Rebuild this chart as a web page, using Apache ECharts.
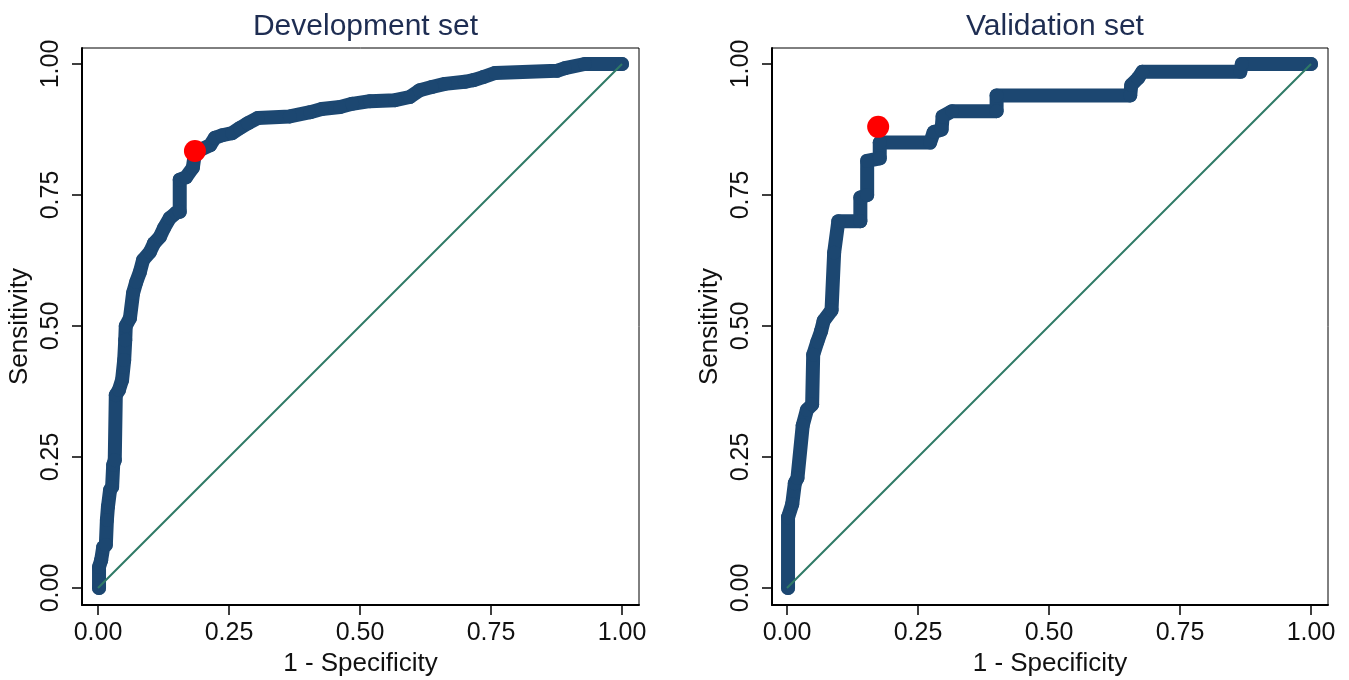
<!DOCTYPE html>
<html>
<head>
<meta charset="utf-8">
<script src="https://cdn.jsdelivr.net/npm/echarts@6/dist/echarts.min.js"></script>
<style>
html,body{margin:0;padding:0;background:#fff;}
#chart{width:1349px;height:680px;}
</style>
</head>
<body>
<div id="chart"></div>
<script>
// ---- data ----
var panelTitles = ['Development set', 'Validation set'];
var xAxisName = '1 - Specificity';
var yAxisName = 'Sensitivity';
var tickValues = [0, 0.25, 0.5, 0.75, 1];
var tickLabels = ['0.00', '0.25', '0.50', '0.75', '1.00'];

var devFpr = [0.002,0.002,0.006,0.010,0.015,0.017,0.019,0.023,0.027,0.029,0.032,0.034,0.040,0.046,0.050,0.052,0.053,0.061,0.067,0.073,0.080,0.086,0.099,0.107,0.118,0.126,0.137,0.149,0.156,0.156,0.168,0.181,0.185,0.195,0.214,0.223,0.237,0.256,0.271,0.286,0.305,0.366,0.405,0.427,0.462,0.485,0.519,0.567,0.595,0.614,0.637,0.662,0.700,0.716,0.735,0.758,0.876,0.891,0.929,1.000];
var devTpr = [0.000,0.040,0.053,0.078,0.082,0.130,0.155,0.187,0.193,0.235,0.244,0.368,0.378,0.397,0.435,0.473,0.500,0.515,0.563,0.584,0.603,0.626,0.641,0.658,0.670,0.687,0.706,0.716,0.718,0.779,0.784,0.802,0.830,0.836,0.845,0.859,0.864,0.868,0.878,0.887,0.897,0.900,0.908,0.914,0.918,0.924,0.929,0.931,0.937,0.950,0.956,0.962,0.966,0.969,0.975,0.983,0.987,0.992,1.000,1.000];
var devCut = [0.185, 0.834];

var valFpr = [0.002,0.002,0.010,0.015,0.020,0.030,0.038,0.048,0.050,0.058,0.065,0.070,0.085,0.090,0.098,0.140,0.140,0.153,0.153,0.177,0.177,0.273,0.280,0.295,0.297,0.315,0.400,0.400,0.655,0.657,0.670,0.678,0.865,0.868,1.000];
var valTpr = [0.000,0.135,0.160,0.200,0.210,0.310,0.340,0.350,0.445,0.470,0.490,0.510,0.530,0.640,0.700,0.700,0.745,0.750,0.815,0.820,0.850,0.850,0.870,0.875,0.900,0.910,0.910,0.940,0.940,0.960,0.973,0.985,0.985,1.000,1.000];
var valCut = [0.174, 0.880];

var refLine = [[0, 0], [1, 1]];

// ---- build ----
function pairs(xs, ys) { return xs.map(function (x, i) { return [x, ys[i]]; }); }

var FONT = 'Liberation Sans, Arial, Helvetica, sans-serif';
var curveColor = '#1c4771';
var diagColor = '#2f7a66';

var grids = [
  {left: 82, top: 48, width: 557, height: 557},
  {left: 772, top: 48, width: 556, height: 557}
];
var xRanges = [[-0.0305, 1.0324], [-0.0286, 1.0324]];
var yRange = [-0.0324, 1.0305];

function labelFmt(v) {
  var i = tickValues.indexOf(v);
  return i >= 0 ? tickLabels[i] : '';
}

var option = {
  backgroundColor: '#fff',
  animation: false,
  title: grids.map(function (g, i) {
    return {
      text: panelTitles[i],
      left: g.left + g.width / 2,
      top: 7,
      textAlign: 'center',
      textStyle: {fontFamily: FONT, fontSize: 30, fontWeight: 'normal', color: '#1e2d52'}
    };
  }),
  grid: grids.map(function (g) {
    return {left: g.left, top: g.top, width: g.width, height: g.height,
      show: true, borderColor: '#000', borderWidth: 1, backgroundColor: '#fff',
      containLabel: false, outerBoundsMode: 'none'};
  }),
  xAxis: grids.map(function (g, i) {
    return {
      type: 'value', gridIndex: i, min: xRanges[i][0], max: xRanges[i][1],
      name: xAxisName, nameLocation: 'middle', nameGap: 46,
      nameTextStyle: {fontFamily: FONT, fontSize: 26, color: '#111'},
      axisLine: {show: true, onZero: false, lineStyle: {color: '#000', width: 2}},
      axisTick: {show: true, inside: false, length: 10, customValues: tickValues, lineStyle: {color: '#000', width: 1.5}},
      axisLabel: {show: true, customValues: tickValues, formatter: labelFmt, margin: 16,
        fontFamily: FONT, fontSize: 25, color: '#111'},
      splitLine: {show: false}
    };
  }),
  yAxis: grids.map(function (g, i) {
    return {
      type: 'value', gridIndex: i, min: yRange[0], max: yRange[1],
      name: yAxisName, nameLocation: 'middle', nameGap: 49, nameRotate: 90,
      nameTextStyle: {fontFamily: FONT, fontSize: 26, color: '#111'},
      axisLine: {show: true, onZero: false, lineStyle: {color: '#000', width: 2}},
      axisTick: {show: true, inside: false, length: 10, customValues: tickValues, lineStyle: {color: '#000', width: 1.5}},
      axisLabel: {show: true, customValues: tickValues, formatter: labelFmt, rotate: 90, margin: 18,
        fontFamily: FONT, fontSize: 25, color: '#111'},
      splitLine: {show: false}
    };
  }),
  series: []
};

var curves = [pairs(devFpr, devTpr), pairs(valFpr, valTpr)];
var cuts = [devCut, valCut];
for (var i = 0; i < 2; i++) {
  option.series.push({
    type: 'line', xAxisIndex: i, yAxisIndex: i, data: curves[i],
    symbol: 'circle', symbolSize: 14, showAllSymbol: true,
    itemStyle: {color: curveColor, opacity: 1},
    lineStyle: {color: curveColor, width: 14, cap: 'round', join: 'round', opacity: 1},
    z: 2, silent: true
  });
  option.series.push({
    type: 'line', xAxisIndex: i, yAxisIndex: i, data: refLine,
    symbol: 'none', lineStyle: {color: diagColor, width: 2}, z: 3, silent: true
  });
  option.series.push({
    type: 'scatter', xAxisIndex: i, yAxisIndex: i, data: [cuts[i]],
    symbol: 'circle', symbolSize: 22, itemStyle: {color: '#ff0000', opacity: 1}, z: 4, silent: true
  });
}

var chart = echarts.init(document.getElementById('chart'), null, {renderer: 'canvas'});
chart.setOption(option);
</script>
</body>
</html>
